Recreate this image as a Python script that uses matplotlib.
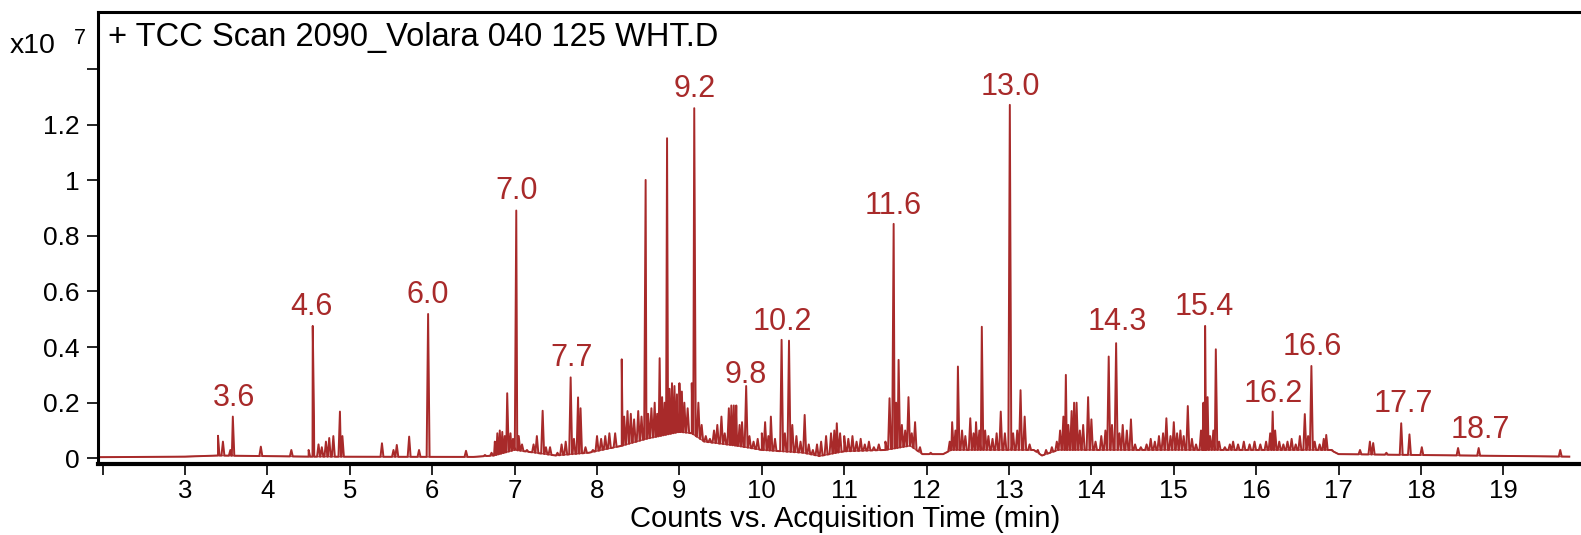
import numpy as np
import matplotlib
matplotlib.use('Agg')
import matplotlib.pyplot as plt

plt.rcParams['font.family'] = ['Liberation Sans', 'DejaVu Sans']

RED = '#a82a2a'

# baseline under the trace (time in min, counts x1e7)
bl_t = [1.95, 3.0, 3.4, 4.5, 6.5, 6.75, 7.0, 7.5, 7.9, 8.3, 8.6, 9.0, 9.15, 9.3, 9.7,
        10.0, 10.5, 10.7, 11.0, 11.5, 11.8, 11.95, 12.2, 12.3, 13.3, 13.4, 13.6,
        15.6, 16.9, 17.0, 19.8]
bl_v = [0.004, 0.006, 0.01, 0.006, 0.005, 0.01, 0.03, 0.01, 0.02, 0.045, 0.07, 0.095, 0.09,
        0.06, 0.045, 0.03, 0.02, 0.008, 0.025, 0.03, 0.045, 0.015, 0.015, 0.03, 0.03,
        0.01, 0.03, 0.03, 0.03, 0.015, 0.006]

# peak apex times and heights
pk_t = [3.40, 3.46, 3.55, 3.58, 3.92, 4.29, 4.50, 4.55, 4.565, 4.62, 4.66, 4.71, 4.75, 4.80,
        4.88, 4.91, 5.39, 5.53, 5.57, 5.72, 5.84, 5.95, 6.41, 6.64,
        6.72, 6.76, 6.79, 6.82, 6.85, 6.88, 6.91, 6.95, 6.98, 7.02, 7.05, 7.09, 7.15, 7.23,
        7.27, 7.34, 7.38, 7.43, 7.52, 7.57, 7.62, 7.68, 7.72, 7.77, 7.80, 7.86, 7.95, 8.00,
        8.05, 8.10, 8.15, 8.22, 8.30, 8.33, 8.37, 8.41, 8.45, 8.50, 8.54, 8.59, 8.62, 8.66,
        8.70, 8.73, 8.76, 8.79, 8.82, 8.85, 8.88, 8.91, 8.94, 8.97, 9.00, 9.03, 9.06, 9.10,
        9.15, 9.18, 9.23, 9.27, 9.32, 9.37, 9.42, 9.46, 9.51, 9.55, 9.60, 9.63, 9.66, 9.69,
        9.73, 9.76, 9.81, 9.85, 9.90, 9.95, 10.00, 10.04, 10.08, 10.11, 10.16, 10.24, 10.28,
        10.33, 10.37, 10.42, 10.47, 10.52, 10.57, 10.62, 10.67, 10.72, 10.78, 10.84, 10.88,
        10.91, 10.95, 11.00, 11.05, 11.10, 11.15, 11.20, 11.25, 11.30, 11.36, 11.42, 11.50,
        11.55, 11.60, 11.63, 11.66, 11.70, 11.74, 11.78, 11.82, 11.86, 11.92,
        12.05, 12.28, 12.31, 12.35, 12.38, 12.43, 12.47, 12.53, 12.57, 12.60, 12.64, 12.67,
        12.71, 12.75, 12.80, 12.85, 12.90, 12.95, 13.01, 13.05, 13.10, 13.14, 13.19, 13.25,
        13.35, 13.45, 13.52, 13.58, 13.62, 13.66, 13.69, 13.72, 13.76, 13.79, 13.82, 13.86,
        13.90, 13.96, 14.00, 14.05, 14.12, 14.17, 14.21, 14.25, 14.30, 14.34, 14.38, 14.43,
        14.48, 14.53, 14.60, 14.67, 14.72, 14.77, 14.82, 14.87, 14.91, 14.96, 15.00, 15.04,
        15.08, 15.12, 15.17, 15.22, 15.27, 15.33, 15.36, 15.38, 15.41, 15.44, 15.48, 15.51,
        15.55, 15.62, 15.68, 15.72, 15.78, 15.85, 15.92, 15.98, 16.05, 16.12, 16.17, 16.20,
        16.23, 16.28, 16.33, 16.38, 16.43, 16.48, 16.53, 16.59, 16.63, 16.67, 16.71, 16.77,
        16.82, 16.85, 16.92,
        17.26, 17.38, 17.42, 17.58, 17.76, 17.86, 18.01, 18.45, 18.70, 19.69]
pk_v = [0.081, 0.060, 0.03, 0.150, 0.042, 0.030, 0.03, 0.476, 0.15, 0.05, 0.04, 0.06, 0.073, 0.08,
        0.168, 0.08, 0.054, 0.03, 0.048, 0.078, 0.03, 0.519, 0.027, 0.012,
        0.02, 0.06, 0.09, 0.10, 0.095, 0.08, 0.234, 0.09, 0.07, 0.891, 0.08, 0.05, 0.03, 0.05,
        0.08, 0.171, 0.04, 0.04, 0.02, 0.05, 0.06, 0.291, 0.07, 0.219, 0.18, 0.04, 0.03, 0.08,
        0.07, 0.08, 0.09, 0.09, 0.356, 0.15, 0.17, 0.16, 0.14, 0.17, 0.15, 1.001, 0.16, 0.18,
        0.20, 0.16, 0.36, 0.22, 0.20, 1.151, 0.25, 0.27, 0.26, 0.23, 0.27, 0.24, 0.20, 0.18,
        0.27, 1.259, 0.20, 0.12, 0.08, 0.07, 0.10, 0.12, 0.15, 0.09, 0.18, 0.19, 0.19, 0.19,
        0.12, 0.13, 0.26, 0.08, 0.06, 0.07, 0.09, 0.13, 0.08, 0.15, 0.07, 0.426, 0.09,
        0.423, 0.12, 0.08, 0.06, 0.156, 0.05, 0.03, 0.05, 0.06, 0.08, 0.09, 0.10,
        0.126, 0.09, 0.08, 0.07, 0.08, 0.06, 0.07, 0.05, 0.06, 0.04, 0.05, 0.06,
        0.216, 0.843, 0.20, 0.354, 0.12, 0.10, 0.22, 0.09, 0.13, 0.04,
        0.02, 0.06, 0.13, 0.10, 0.33, 0.10, 0.08, 0.144, 0.09, 0.13, 0.10, 0.473,
        0.10, 0.08, 0.07, 0.09, 0.168, 0.09, 1.271, 0.09, 0.10, 0.245, 0.15, 0.05,
        0.03, 0.03, 0.04, 0.06, 0.10, 0.15, 0.30, 0.12, 0.17, 0.20, 0.20, 0.10,
        0.12, 0.22, 0.14, 0.06, 0.08, 0.10, 0.366, 0.12, 0.414, 0.09, 0.12, 0.10,
        0.14, 0.05, 0.04, 0.05, 0.07, 0.06, 0.08, 0.09, 0.144, 0.08, 0.13, 0.09,
        0.10, 0.08, 0.188, 0.07, 0.05, 0.10, 0.20, 0.476, 0.22, 0.08, 0.10, 0.392,
        0.06, 0.04, 0.05, 0.06, 0.05, 0.06, 0.05, 0.06, 0.05, 0.06, 0.09, 0.168,
        0.10, 0.06, 0.05, 0.06, 0.07, 0.05, 0.08, 0.159, 0.08, 0.332, 0.06, 0.05,
        0.07, 0.084, 0.03,
        0.03, 0.06, 0.055, 0.02, 0.126, 0.086, 0.04, 0.037, 0.037, 0.03]

# annotated retention times
lab_text = ['3.6', '4.6', '6.0', '7.0', '7.7', '9.2', '9.8', '10.2', '11.6', '13.0',
            '14.3', '15.4', '16.2', '16.6', '17.7', '18.7']
lab_t = [3.59, 4.54, 5.95, 7.02, 7.69, 9.19, 9.81, 10.25, 11.60, 13.02,
         14.31, 15.37, 16.21, 16.68, 17.78, 18.72]
lab_v = [0.218, 0.543, 0.587, 0.961, 0.362, 1.327, 0.30, 0.491, 0.907, 1.335,
         0.491, 0.543, 0.231, 0.401, 0.195, 0.102]

xticks = list(range(2, 20))
yticks = [0, 0.2, 0.4, 0.6, 0.8, 1.0, 1.2, 1.4]
ytick_labels = ['0', '0.2', '0.4', '0.6', '0.8', '1', '1.2', '']

# build the trace: baseline points plus a narrow triangle for every peak
hw = 0.018
pk_t = np.array(pk_t)
pk_v = np.array(pk_v)
left = np.interp(pk_t - hw, bl_t, bl_v)
right = np.interp(pk_t + hw, bl_t, bl_v)
tt = np.concatenate([bl_t, pk_t - hw, pk_t, pk_t + hw])
vv = np.concatenate([bl_v, left, pk_v, right])
order = np.argsort(tt, kind='stable')
tt = tt[order]
vv = vv[order]
base = np.interp(tt, bl_t, bl_v)

fig = plt.figure(figsize=(15.81, 5.35), dpi=100)
ax = fig.add_axes([0.062, 0.1327, 0.938, 0.8449])

ax.fill_between(tt, base, vv, color=RED, alpha=0.22, lw=0)
ax.plot(bl_t, bl_v, color=RED, lw=1.0, alpha=0.8)
ax.plot(tt, vv, color=RED, lw=1.4)

for s, t, v in zip(lab_text, lab_t, lab_v):
    ax.text(t, v, s, ha='center', va='center', fontsize=22, color=RED)

ax.set_xlim(1.944, 19.942)
ax.set_ylim(-0.0205, 1.605)
ax.set_xticks(xticks)
ax.set_xticklabels([''] + [str(x) for x in xticks[1:]])
ax.set_yticks(yticks)
ax.set_yticklabels(ytick_labels)
ax.tick_params(axis='both', direction='out', length=8, width=1.2, colors='black')
ax.tick_params(axis='y', pad=5, labelsize=19)
ax.tick_params(axis='x', pad=3, labelsize=18.5)

ax.spines['right'].set_visible(False)
ax.spines['left'].set_linewidth(2.2)
ax.spines['top'].set_linewidth(2.2)
ax.spines['bottom'].set_linewidth(3)

ax.text(0.0067, 0.9426, '+ TCC Scan 2090_Volara 040 125 WHT.D', transform=ax.transAxes,
        ha='left', va='center', fontsize=23.5)
fig.text(10 / 1581, 1 - 46 / 535, 'x10', ha='left', va='center', fontsize=20.5)
fig.text(74 / 1581, 1 - 38 / 535, '7', ha='left', va='center', fontsize=15.5)

ax.set_xlabel('Counts vs. Acquisition Time (min)', fontsize=21)
ax.xaxis.set_label_coords(0.5037, -0.0907)

fig.savefig('out.png', dpi=100)
